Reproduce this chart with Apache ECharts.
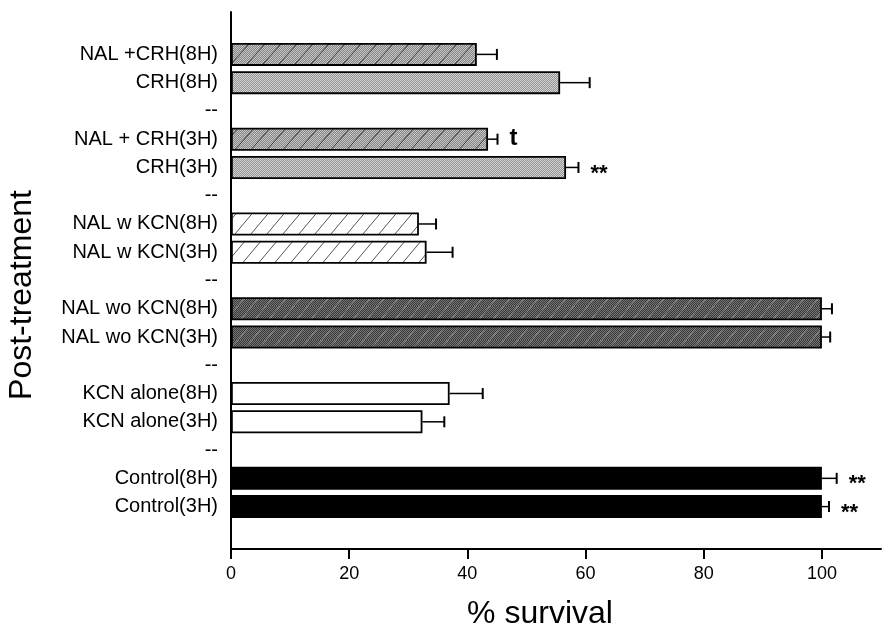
<!DOCTYPE html>
<html><head><meta charset="utf-8">
<script src="https://cdn.jsdelivr.net/npm/echarts@6/dist/echarts.min.js"></script>
<style>html,body{margin:0;padding:0;background:#fff}#c{width:885px;height:633px}</style>
</head><body><div id="c"></div>
<script>
// ---- data (top to bottom) ----
const categories = ['', 'NAL +CRH(8H)', 'CRH(8H)', '--', 'NAL + CRH(3H)', 'CRH(3H)', '--',
  'NAL w KCN(8H)', 'NAL w KCN(3H)', '--', 'NAL wo KCN(8H)', 'NAL wo KCN(3H)', '--',
  'KCN alone(8H)', 'KCN alone(3H)', '--', 'Control(8H)', 'Control(3H)', ''];
const survival  = [null, 41.6, 55.7, null, 43.5, 56.7, null, 31.8, 33.1, null, 100, 100, null, 37.0, 32.4, null, 100, 100, null];
const errorHigh = [null, 45.0, 60.7, null, 45.1, 58.8, null, 34.7, 37.5, null, 101.7, 101.4, null, 42.6, 36.1, null, 102.5, 101.2, null];
const significance = ['', '', '', '', 't', '**', '', '', '', '', '', '', '', '', '', '', '**', '**', ''];
const groups = [null, 'nalcrh', 'crh', null, 'nalcrh', 'crh', null, 'nalw', 'nalw', null, 'nalwo', 'nalwo', null, 'kcn', 'kcn', null, 'control', 'control', null];
const xTicks = [0, 20, 40, 60, 80, 100];
const xMin = 0, xMax = 110;

// ---- fill patterns ----
function makeTile(w, h, base1, base2, lineColor, lineWidth) {
  const c = document.createElement('canvas');
  c.width = w; c.height = h;
  const ctx = c.getContext('2d');
  for (let y = 0; y < h; y++) for (let x = 0; x < w; x++) {
    ctx.fillStyle = ((x + y) % 2 === 0) ? base1 : base2;
    ctx.fillRect(x, y, 1, 1);
  }
  if (lineColor) {
    ctx.strokeStyle = lineColor; ctx.lineWidth = lineWidth;
    [-w, 0, w].forEach(function (dx) {
      ctx.beginPath(); ctx.moveTo(dx, h); ctx.lineTo(dx + w, 0); ctx.stroke();
    });
  }
  return c;
}
const fills = {
  nalcrh: { image: makeTile(16, 18, '#c4c4c4', '#868686', '#3a3a3a', 1), repeat: 'repeat' },
  crh: { image: makeTile(4, 4, '#d2d2d2', '#959595', null, 0), repeat: 'repeat' },
  nalw: { image: makeTile(16, 19, '#ffffff', '#ffffff', '#555555', 1), repeat: 'repeat' },
  nalwo: { image: makeTile(14, 17, '#767676', '#383838', '#8c8c8c', 1), repeat: 'repeat' },
  kcn: '#ffffff',
  control: '#000000'
};

const FONT = "'Liberation Sans', Arial, sans-serif";
const chart = echarts.init(document.getElementById('c'));

const barData = survival.map(function (v, i) {
  if (v == null) return null;
  return { value: v, itemStyle: { color: fills[groups[i]] } };
});
const errData = [];
survival.forEach(function (v, i) { if (v != null) errData.push([v, errorHigh[i], i]); });

chart.setOption({
  animation: false,
  backgroundColor: '#ffffff',
  grid: { left: 231, right: 4, top: 12, bottom: 84, containLabel: false, outerBoundsMode: 'none' },
  xAxis: {
    type: 'value', min: xMin, max: xMax,
    axisLine: { show: true, lineStyle: { color: '#000', width: 2 } },
    axisTick: { show: true, inside: false, length: 10, customValues: xTicks, lineStyle: { color: '#000', width: 2 } },
    axisLabel: { customValues: xTicks, margin: 16, fontSize: 18, color: '#000', fontFamily: FONT },
    splitLine: { show: false }
  },
  yAxis: {
    type: 'category', data: categories, inverse: true,
    axisLine: { show: true, lineStyle: { color: '#000', width: 2 } },
    axisTick: { show: false },
    axisLabel: { interval: 0, margin: 13, fontSize: 20, color: '#000', fontFamily: FONT }
  },
  graphic: [
    { type: 'text', x: 540, y: 614, style: { text: '% survival', font: '32px ' + FONT, fill: '#000', align: 'center', verticalAlign: 'middle' } },
    { type: 'text', x: 22, y: 295, rotation: Math.PI / 2, style: { text: 'Post-treatment', font: '32px ' + FONT, fill: '#000', align: 'center', verticalAlign: 'middle' } }
  ],
  series: [
    {
      type: 'bar', data: barData, barWidth: 23,
      itemStyle: { borderColor: '#000', borderWidth: 1.8 },
      z: 2
    },
    {
      type: 'custom', data: errData, encode: { x: [0, 1], y: 2 }, z: 3,
      renderItem: function (params, api) {
        const idx = api.value(2);
        const p0 = api.coord([api.value(0), idx]);
        const p1 = api.coord([api.value(1), idx]);
        const cap = 5.5;
        const children = [
          { type: 'line', shape: { x1: p0[0], y1: p0[1], x2: p1[0], y2: p1[1] }, style: { stroke: '#000', lineWidth: 1.5 } },
          { type: 'line', shape: { x1: p1[0], y1: p1[1] - cap, x2: p1[0], y2: p1[1] + cap }, style: { stroke: '#000', lineWidth: 2 } }
        ];
        const lab = significance[idx];
        if (lab) {
          const isT = lab === 't';
          children.push({ type: 'text', style: {
            text: lab, x: p1[0] + 12, y: p1[1] + (isT ? -1 : 6),
            font: 'bold ' + (isT ? 24 : 22) + 'px ' + FONT, fill: '#000', align: 'left', verticalAlign: 'middle'
          } });
        }
        return { type: 'group', children: children };
      }
    }
  ]
});
</script>
</body></html>
